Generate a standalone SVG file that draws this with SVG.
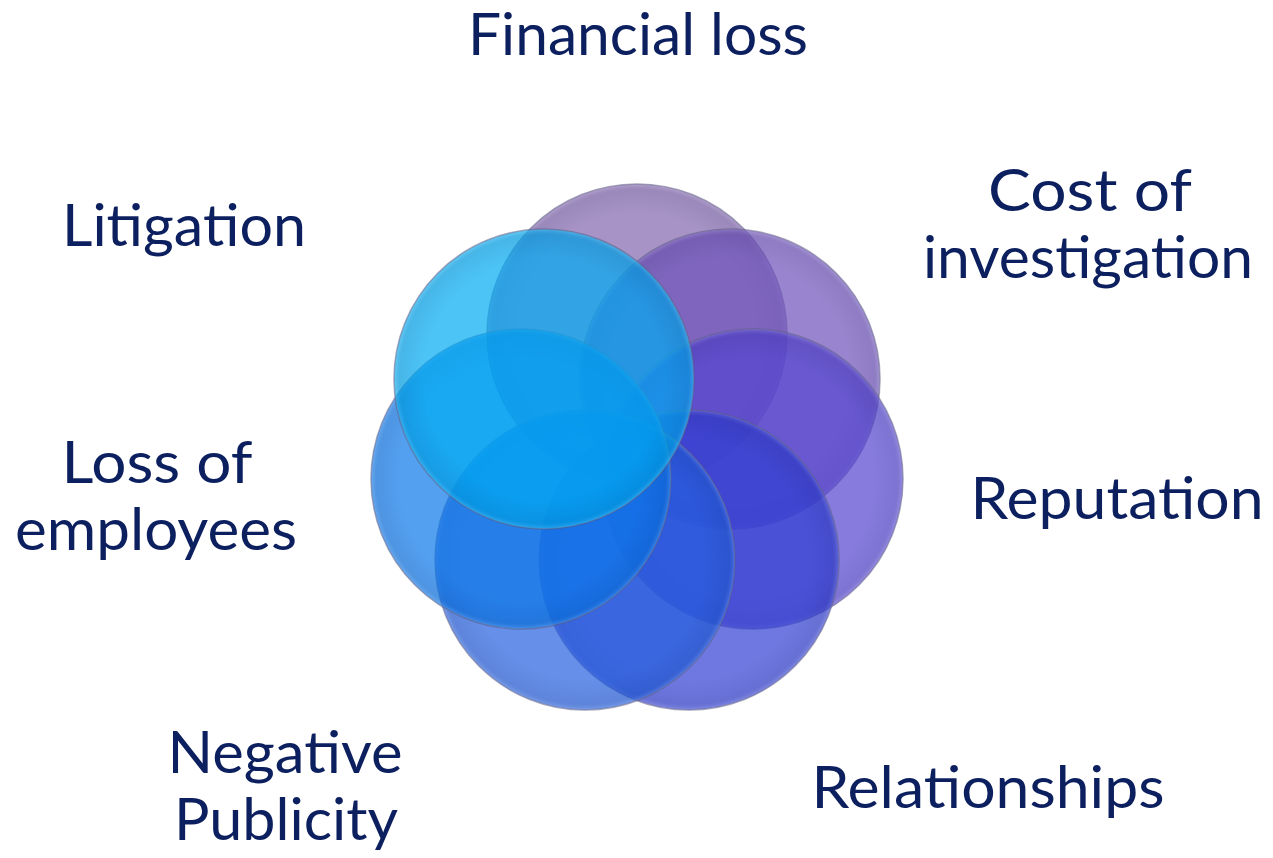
<svg xmlns="http://www.w3.org/2000/svg" width="1273" height="858" viewBox="0 0 1273 858">
  <style>
    .lbl { font-family: "Lato", "Open Sans", "Liberation Sans", sans-serif; font-size: 58px; fill: #0C1F5E; }
    .disc { stroke: #5A5A82; stroke-opacity: 0.55; stroke-width: 1.5; fill-opacity: 0.7; }
    .shade { fill: url(#rim); stroke: none; }
  </style>
  <defs>
    <radialGradient id="rim" cx="0.5" cy="0.5" r="0.5">
      <stop offset="0.8" stop-color="#000030" stop-opacity="0"/>
      <stop offset="0.96" stop-color="#000030" stop-opacity="0.07"/>
      <stop offset="1" stop-color="#FFFFFF" stop-opacity="0.15"/>
    </radialGradient>
  </defs>
  <rect width="1273" height="858" fill="#FFFFFF"/>

  <g id="circles">
    <g id="circle-a"><circle class="disc" cx="637" cy="334" r="150" fill="#8165AE"/><circle class="shade" cx="637" cy="334" r="150"/></g>
    <g id="circle-b"><circle class="disc" cx="730" cy="379" r="150" fill="#6D51BA"/><circle class="shade" cx="730" cy="379" r="150"/></g>
    <g id="circle-c"><circle class="disc" cx="753" cy="479" r="150" fill="#5445D0"/><circle class="shade" cx="753" cy="479" r="150"/></g>
    <g id="circle-d"><circle class="disc" cx="689" cy="560" r="150" fill="#313ED3"/><circle class="shade" cx="689" cy="560" r="150"/></g>
    <g id="circle-e"><circle class="disc" cx="585" cy="560" r="150" fill="#2460DE"/><circle class="shade" cx="585" cy="560" r="150"/></g>
    <g id="circle-f"><circle class="disc" cx="521" cy="479" r="150" fill="#0C77EA"/><circle class="shade" cx="521" cy="479" r="150"/></g>
    <g id="circle-g"><circle class="disc" cx="544" cy="379" r="150" fill="#00ABF2" stroke="#3AC8E8"/><circle class="shade" cx="544" cy="379" r="150"/></g>
  </g>

  <g id="connectors"></g>

  <g id="label-financial"><text class="lbl" x="638" y="55" text-anchor="middle" textLength="340" lengthAdjust="spacingAndGlyphs">Financial loss</text></g>
  <g id="label-cost">
    <text class="lbl" x="1090" y="211" text-anchor="middle" textLength="204" lengthAdjust="spacingAndGlyphs">Cost of</text>
    <text class="lbl" x="1088" y="278" text-anchor="middle" textLength="330" lengthAdjust="spacingAndGlyphs">investigation</text>
  </g>
  <g id="label-litigation"><text class="lbl" x="184" y="246" text-anchor="middle" textLength="244" lengthAdjust="spacingAndGlyphs">Litigation</text></g>
  <g id="label-loss">
    <text class="lbl" x="157" y="483" text-anchor="middle" textLength="191" lengthAdjust="spacingAndGlyphs">Loss of</text>
    <text class="lbl" x="156" y="550" text-anchor="middle" textLength="282" lengthAdjust="spacingAndGlyphs">employees</text>
  </g>
  <g id="label-reputation"><text class="lbl" x="1117" y="519" text-anchor="middle" textLength="293" lengthAdjust="spacingAndGlyphs">Reputation</text></g>
  <g id="label-negative">
    <text class="lbl" x="285" y="773" text-anchor="middle" textLength="235" lengthAdjust="spacingAndGlyphs">Negative</text>
    <text class="lbl" x="286" y="840" text-anchor="middle" textLength="224" lengthAdjust="spacingAndGlyphs">Publicity</text>
  </g>
  <g id="label-relationships"><text class="lbl" x="988" y="808" text-anchor="middle" textLength="353" lengthAdjust="spacingAndGlyphs">Relationships</text></g>
</svg>
